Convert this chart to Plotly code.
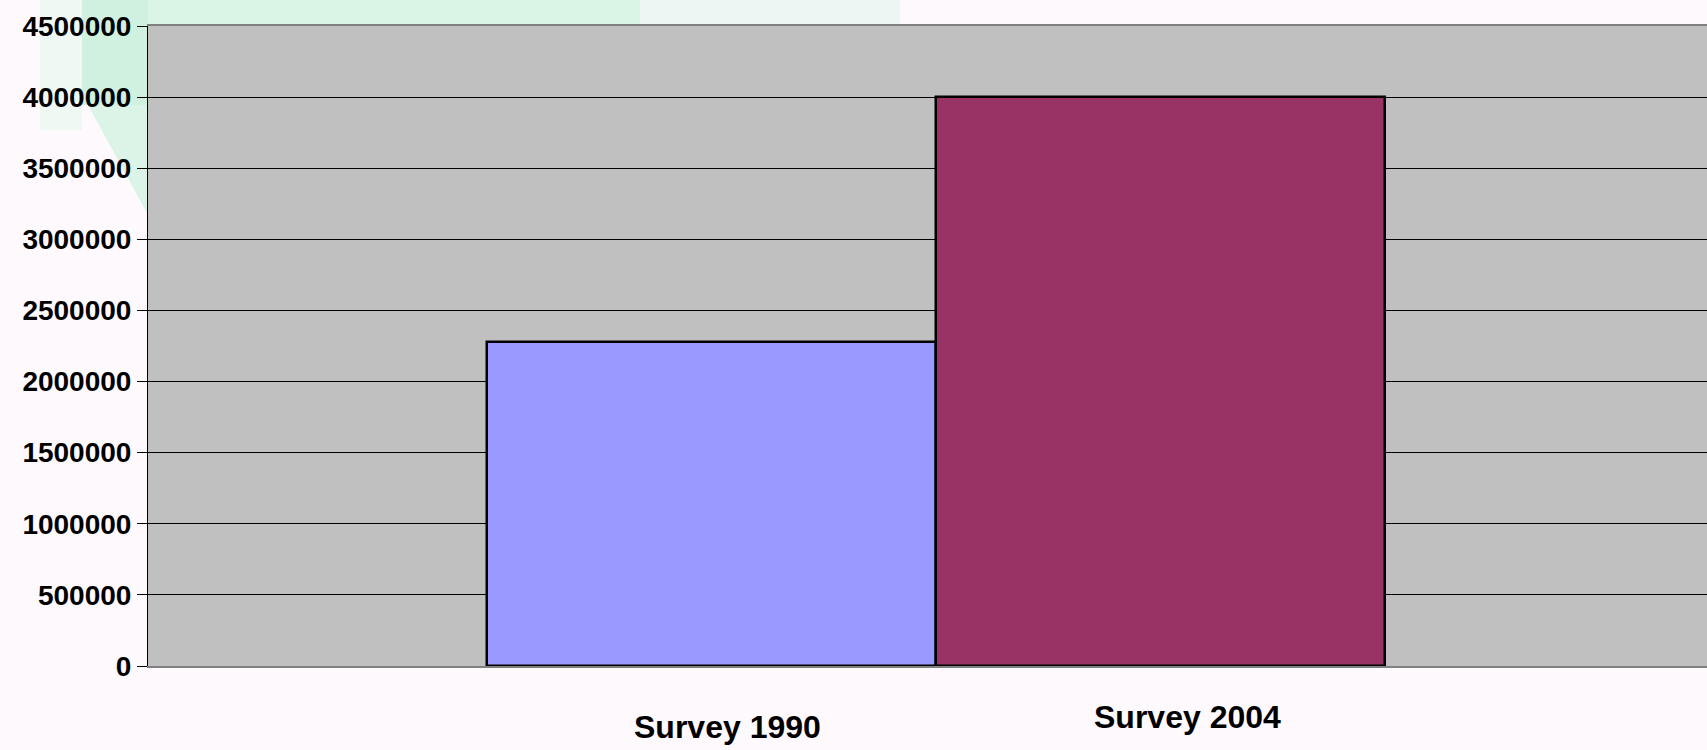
import plotly.graph_objects as go

# ---- data ----
categories = ["Survey 1990", "Survey 2004"]
values = [2280000, 4000000]
bar_colors = ["#9999FF", "#993366"]
y_tick_vals = [0, 500000, 1000000, 1500000, 2000000, 2500000, 3000000, 3500000, 4000000, 4500000]
y_tick_text = [str(v) for v in y_tick_vals]

FONT = "Liberation Sans, Arial, sans-serif"

W, H = 1707, 750
L, T, B = 148, 26, 84

fig = go.Figure()
for cat, val, col in zip(categories, values, bar_colors):
    fig.add_trace(go.Bar(
        x=[cat], y=[val], name=cat,
        marker=dict(color=col, line=dict(color="black", width=2.5)),
        width=1.0, showlegend=False, hoverinfo="x+y",
    ))

# soft green watermark-like shapes in the background (paper coords)
pw = W - L
ph = H - T - B
def px(xp):
    return (xp - L) / pw
def py(yp):
    return (H - B - yp) / ph

shapes = [
    dict(type="rect", xref="paper", yref="paper", x0=px(82), x1=px(148), y0=py(105), y1=py(0),
         fillcolor="rgba(200,240,218,0.85)", line=dict(width=0), layer="below"),
    dict(type="path", xref="paper", yref="paper",
         path=f"M {px(88)},{py(105)} L {px(148)},{py(105)} L {px(148)},{py(215)} Z",
         fillcolor="rgba(205,242,222,0.7)", line=dict(width=0), layer="below"),
    dict(type="rect", xref="paper", yref="paper", x0=px(40), x1=px(82), y0=py(130), y1=py(0),
         fillcolor="rgba(232,246,238,0.6)", line=dict(width=0), layer="below"),
    dict(type="rect", xref="paper", yref="paper", x0=px(148), x1=px(640), y0=py(25), y1=py(0),
         fillcolor="rgba(205,242,222,0.75)", line=dict(width=0), layer="below"),
    dict(type="rect", xref="paper", yref="paper", x0=px(640), x1=px(900), y0=py(25), y1=py(0),
         fillcolor="rgba(226,244,236,0.55)", line=dict(width=0), layer="below"),
]

annotations = [
    dict(x=categories[0], y=0, xref="x", yref="paper", text=categories[0],
         showarrow=False, xanchor="center", yanchor="middle", xshift=16, yshift=-61,
         font=dict(family=FONT, size=32, color="black", weight="bold")),
    dict(x=categories[1], y=0, xref="x", yref="paper", text=categories[1],
         showarrow=False, xanchor="center", yanchor="middle", xshift=27, yshift=-51,
         font=dict(family=FONT, size=32, color="black", weight="bold")),
]

fig.update_layout(
    width=W, height=H,
    margin=dict(l=L, r=0, t=T, b=B, pad=0, autoexpand=False),
    paper_bgcolor="#FDF9FD",
    plot_bgcolor="#C0C0C0",
    barmode="group", bargap=0, bargroupgap=0,
    shapes=shapes,
    annotations=annotations,
    xaxis=dict(
        type="category", categoryorder="array", categoryarray=categories,
        range=[-1.254, 2.218], showticklabels=False, ticks="",
        showgrid=False, zeroline=False, automargin=False,
        showline=True, linecolor="#808080", linewidth=2, mirror=True,
    ),
    yaxis=dict(
        range=[0, 4500000], tickmode="array", tickvals=y_tick_vals, ticktext=y_tick_text,
        showgrid=True, gridcolor="black", gridwidth=1,
        zeroline=False, automargin=False,
        showline=True, linecolor="black", linewidth=1,
        ticks="outside", ticklen=10, tickcolor="black", tickwidth=1,
        tickfont=dict(family=FONT, size=28, color="black", weight="bold"),
    ),
)

fig.write_html(
    "out.html",
    config={"displayModeBar": False},
    post_script="document.body.style.margin='0';document.body.style.overflow='hidden';",
)
